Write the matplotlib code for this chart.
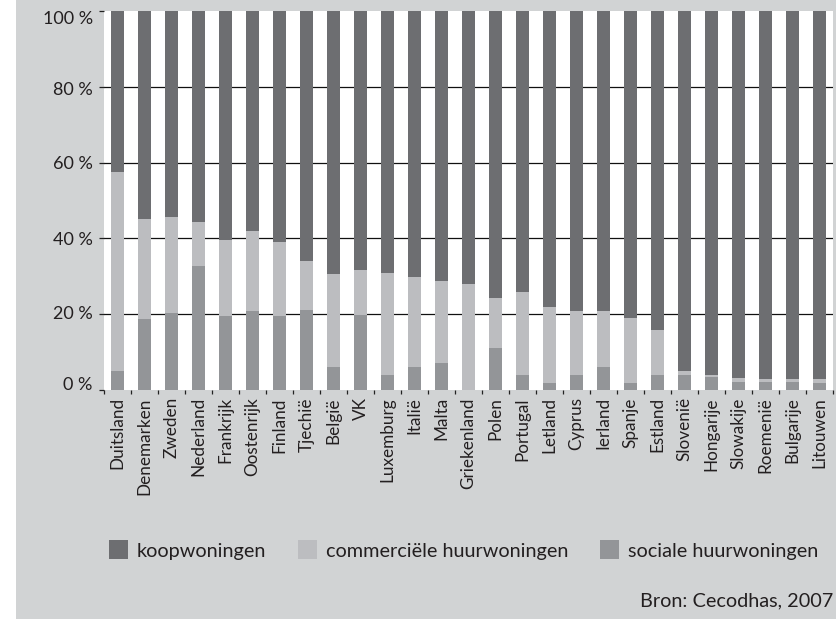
import matplotlib
matplotlib.use("Agg")
import matplotlib.pyplot as plt
from matplotlib.patches import Rectangle, Patch
from matplotlib.transforms import ScaledTranslation
import numpy as np

plt.rcParams['font.family'] = ['Lato', 'DejaVu Sans']

countries = ["Duitsland", "Denemarken", "Zweden", "Nederland", "Frankrijk", "Oostenrijk",
             "Finland", "Tjechië", "België", "VK", "Luxemburg", "Italië", "Malta",
             "Griekenland", "Polen", "Portugal", "Letland", "Cyprus", "Ierland", "Spanje",
             "Estland", "Slovenië", "Hongarije", "Slowakije", "Roemenië", "Bulgarije", "Litouwen"]

sociale = [5.0, 18.7, 20.3, 32.7, 19.5, 20.8, 19.5, 21.1, 6.1, 19.8, 4.0, 6.1, 7.1,
           0.0, 11.1, 4.0, 1.8, 4.0, 6.1, 1.8, 4.0, 4.0, 3.3, 2.1, 2.1, 2.1, 1.8]
commercieel = [52.5, 26.4, 25.3, 11.6, 20.1, 21.2, 19.5, 12.9, 24.5, 11.9, 26.9, 23.7, 21.7,
               28.0, 13.2, 21.9, 20.1, 16.8, 14.7, 17.2, 11.8, 1.0, 0.7, 1.1, 0.8, 0.8, 1.1]
koop = [42.5, 54.9, 54.4, 55.7, 60.4, 58.0, 61.0, 66.0, 69.4, 68.3, 69.1, 70.2, 71.2,
        72.0, 75.7, 74.1, 78.1, 79.2, 79.2, 81.0, 84.2, 95.0, 96.0, 96.8, 97.1, 97.1, 97.1]

series_labels = ["koopwoningen", "commerciële huurwoningen", "sociale huurwoningen"]
y_ticks = [0, 20, 40, 60, 80, 100]
y_ticklabels = ["0 %", "20 %", "40 %", "60 %", "80 %", "100 %"]

c_koop = "#6d6e71"
c_comm = "#bcbdc0"
c_soc = "#939598"
bg = "#d1d3d4"
txt = "#231f20"

W, H = 837, 619
fig = plt.figure(figsize=(W / 100, H / 100), dpi=100, facecolor="white")
fig.patches.append(Rectangle((16 / W, 0), 1 - 16 / W, 1, transform=fig.transFigure,
                             facecolor=bg, edgecolor="none", zorder=-10))

ax = fig.add_axes([104 / W, (H - 390) / H, 729 / W, 379 / H])
ax.set_facecolor("white")

x = np.arange(len(countries))
bw = 0.48
soc = np.array(sociale)
com = np.array(commercieel)
ko = np.array(koop)
ax.bar(x, soc, bw, color=c_soc, zorder=3)
ax.bar(x, com, bw, bottom=soc, color=c_comm, zorder=3)
ax.bar(x, ko, bw, bottom=soc + com, color=c_koop, zorder=3)

for yv in y_ticks[1:-1]:
    ax.axhline(yv, color="#111111", lw=0.9, zorder=1)

ax.set_xlim(-0.5, len(countries) - 0.5)
ax.set_ylim(0, 100)
for s in ax.spines.values():
    s.set_visible(False)

ax.set_yticks(y_ticks)
ax.set_yticklabels(y_ticklabels, fontsize=13, color=txt)
ax.tick_params(axis="y", length=3.8, width=0.9, color="#222222", pad=4.3)
offs = {0: 6, 20: 2, 40: 0, 60: 0, 80: -1.5, 100: -6}
for yv, lab in zip(y_ticks, ax.get_yticklabels()):
    lab.set_transform(lab.get_transform() + ScaledTranslation(0, offs[yv] / 100, fig.dpi_scale_trans))

ax.set_xticks(x)
ax.set_xticklabels(countries, rotation=90, fontsize=12.3, color=txt)
ax.tick_params(axis="x", which="major", length=0, pad=5.2)
ax.set_xticks(np.arange(-0.5, len(countries)), minor=True)
ax.tick_params(axis="x", which="minor", length=3.2, width=0.9, color="#222222", direction="out")

handles = [Patch(facecolor=c_koop), Patch(facecolor=c_comm), Patch(facecolor=c_soc)]
fs = 14.3
fig.legend(handles, series_labels, loc="center left", ncol=3, frameon=False,
           bbox_to_anchor=(109 / W, (H - 550) / H), fontsize=fs,
           handlelength=0.96, handleheight=1.1, handletextpad=0.45,
           columnspacing=1.6, borderpad=0, borderaxespad=0,
           labelcolor=txt)

fig.text(833 / W, (H - 606) / H, "Bron: Cecodhas, 2007", ha="right", va="baseline",
         fontsize=14.3, color=txt)

fig.savefig("out.png", dpi=100, facecolor=fig.get_facecolor())
